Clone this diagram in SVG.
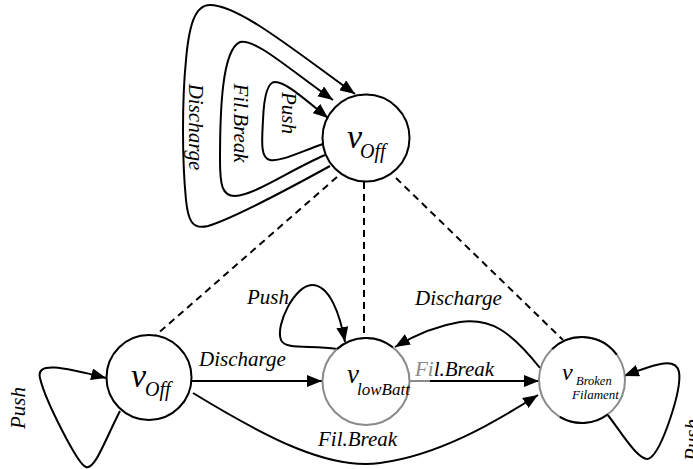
<svg xmlns="http://www.w3.org/2000/svg" width="693" height="469" viewBox="0 0 693 469">
<style>
.edge{fill:none;stroke:#000;stroke-width:2}
.dash{fill:none;stroke:#000;stroke-width:2;stroke-dasharray:7 5}
.node{fill:#fff;stroke:#000;stroke-width:2}
.gnode{fill:#fff;stroke:#8a8a8a;stroke-width:2}
.arc{fill:none;stroke:#000;stroke-width:2}
text{font-family:"Liberation Serif","Times New Roman",serif;font-style:italic;fill:#000}
.lbl{font-size:21px}
</style>
<defs>
<marker id="ah" viewBox="0 0 15 12" refX="15" refY="6" markerWidth="15" markerHeight="12" markerUnits="userSpaceOnUse" orient="auto">
<path d="M0,0 L15,6 L0,12 z" fill="#000"/>
</marker>
</defs>
<g id="connectors">
<line class="dash" x1="337" y1="177" x2="155" y2="336"/>
<line class="dash" x1="364" y1="182" x2="364" y2="338"/>
<line class="dash" x1="396" y1="178" x2="563" y2="340"/>
<path class="edge" d="M330,166 C290,188 235,218 208,226 C192,230 188,220 186,200 C182,160 182,100 186,60 C189,25 195,5 210,5 C240,5 300,55 355,94" marker-end="url(#ah)"/>
<path class="edge" d="M325,155 C290,170 255,195 235,196 C222,196 220,185 220,160 C220,110 222,50 240,42 C255,38 290,70 333,100" marker-end="url(#ah)"/>
<path class="edge" d="M323,144 C300,152 280,162 270,160 C260,158 262,140 263,120 C264,95 268,82 275,82 C285,82 300,95 328,118" marker-end="url(#ah)"/>
<path class="edge" d="M120,411 C105,440 95,470 86,467 C78,465 45,400 40,378 C36,362 60,366 106,378" marker-end="url(#ah)"/>
<line class="edge" x1="192" y1="381" x2="322" y2="381" marker-end="url(#ah)"/>
<line x1="410" y1="381" x2="431" y2="381" stroke="#8a8a8a" stroke-width="2"/>
<line class="edge" x1="430" y1="381" x2="539" y2="381" marker-end="url(#ah)"/>
<path class="edge" d="M193,393 C270,440 330,470 380,463 C440,455 495,422 538,395" marker-end="url(#ah)"/>
<path class="edge" d="M540,368 C510,330 490,318 460,322 C435,326 415,335 395,347" marker-end="url(#ah)"/>
<path class="edge" d="M337,349 C310,345 285,350 281,340 C275,325 295,285 312,285 C330,285 340,315 345,342" marker-end="url(#ah)"/>
<path class="edge" d="M607,414 C620,430 640,465 650,458 C662,450 682,390 679,372 C676,358 660,362 624,376" marker-end="url(#ah)"/>
<text class="lbl" transform="translate(189,127) rotate(90)" text-anchor="middle">Discharge</text>
<text class="lbl" transform="translate(234,123) rotate(90)" text-anchor="middle">Fil.Break</text>
<text class="lbl" transform="translate(282,113) rotate(90)" text-anchor="middle">Push</text>
<text class="lbl" transform="translate(25,408) rotate(-90)" text-anchor="middle">Push</text>
<text class="lbl" transform="translate(699,440) rotate(-90)" text-anchor="middle">Push</text>
<text class="lbl" x="199" y="366">Discharge</text>
<text class="lbl" x="247" y="304">Push</text>
<text class="lbl" x="415" y="305">Discharge</text>
<text class="lbl" x="415" y="376"><tspan fill="#8a8a8a">Fi</tspan>l.Break</text>
<text class="lbl" x="318" y="446">Fil.Break</text>
</g>
<g id="vOffTop">
<circle class="node" cx="366" cy="138" r="43.5"/>
<text x="347" y="148" font-size="34">v<tspan x="360" y="158" font-size="20">Off</tspan></text>
</g>
<g id="vOff">
<circle class="node" cx="149" cy="377.5" r="42.5"/>
<text x="131" y="387" font-size="34">v<tspan x="145" y="396" font-size="20">Off</tspan></text>
</g>
<g id="vLowBatt">
<circle class="gnode" cx="366" cy="381.5" r="43.5"/>
<path class="arc" d="M337,349.1 A43.5,43.5 0 0 1 392.8,347.2"/>
<text x="347" y="383" font-size="27">v<tspan x="357" y="395" font-size="17">lowBatt</tspan></text>
</g>
<g id="vBroken">
<circle class="gnode" cx="582" cy="380" r="43"/>
<path class="arc" d="M552.1,349.1 A43,43 0 0 1 616.8,354.7"/>
<path class="arc" d="M607.9,414.3 A43,43 0 0 1 559.8,416.9"/>
<text x="562" y="380" font-size="24">v<tspan x="576" y="385" font-size="12.5">Broken</tspan><tspan x="572" y="399" font-size="13">Filament</tspan></text>
</g>
</svg>
